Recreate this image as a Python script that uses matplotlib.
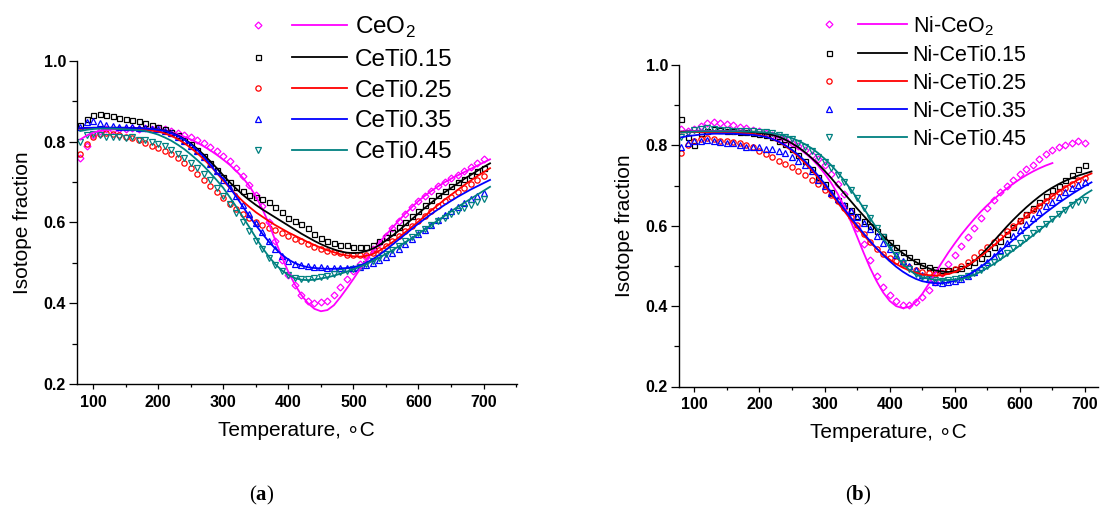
import matplotlib
matplotlib.use('Agg')
import matplotlib.pyplot as plt
from matplotlib.legend_handler import HandlerTuple
from matplotlib.ticker import MultipleLocator, FormatStrFormatter

plt.rcParams['font.family'] = ['Liberation Sans', 'DejaVu Sans']
plt.rcParams['mathtext.fontset'] = 'custom'
plt.rcParams['mathtext.rm'] = 'Liberation Sans'
plt.rcParams['mathtext.bf'] = 'Liberation Serif:bold'

# ---------------- data ----------------
T_data = list(range(80, 701, 10))      # measured points, degC
T_fit = list(range(80, 711, 10))       # fitted curves, degC
T_fit_b_ceo2 = list(range(80, 651, 10))

labels_a = ['CeO$_2$', 'CeTi0.15', 'CeTi0.25', 'CeTi0.35', 'CeTi0.45']
labels_b = ['Ni-CeO$_2$', 'Ni-CeTi0.15', 'Ni-CeTi0.25', 'Ni-CeTi0.35', 'Ni-CeTi0.45']

# panel (a) measured
a_ceo2 = [0.760, 0.790, 0.815, 0.825, 0.830, 0.828, 0.832, 0.830, 0.834, 0.831,
          0.833, 0.831, 0.833, 0.830, 0.826, 0.822, 0.816, 0.810, 0.805, 0.797,
          0.787, 0.776, 0.765, 0.752, 0.735, 0.715, 0.692, 0.667, 0.640, 0.600,
          0.555, 0.508, 0.470, 0.445, 0.420, 0.405, 0.400, 0.402, 0.405, 0.420,
          0.440, 0.460, 0.480, 0.497, 0.515, 0.535, 0.550, 0.567, 0.585, 0.603,
          0.620, 0.638, 0.652, 0.666, 0.678, 0.690, 0.700, 0.710, 0.718, 0.728,
          0.738, 0.747, 0.757]
a_ti15 = [0.840, 0.855, 0.865, 0.868, 0.866, 0.862, 0.858, 0.856, 0.853, 0.850,
          0.845, 0.840, 0.836, 0.830, 0.823, 0.815, 0.805, 0.793, 0.780, 0.765,
          0.748, 0.730, 0.712, 0.700, 0.688, 0.677, 0.668, 0.662, 0.657, 0.650,
          0.638, 0.625, 0.612, 0.603, 0.595, 0.585, 0.572, 0.562, 0.553, 0.548,
          0.545, 0.543, 0.540, 0.538, 0.540, 0.545, 0.553, 0.563, 0.575, 0.588,
          0.600, 0.615, 0.628, 0.642, 0.655, 0.667, 0.678, 0.690, 0.700, 0.708,
          0.718, 0.727, 0.735]
a_ti25 = [0.770, 0.795, 0.810, 0.818, 0.820, 0.818, 0.815, 0.812, 0.808, 0.803,
          0.797, 0.790, 0.783, 0.776, 0.768, 0.758, 0.747, 0.735, 0.720, 0.706,
          0.690, 0.675, 0.660, 0.645, 0.632, 0.620, 0.610, 0.602, 0.594, 0.587,
          0.580, 0.573, 0.566, 0.560, 0.553, 0.546, 0.540, 0.535, 0.530, 0.526,
          0.523, 0.520, 0.519, 0.519, 0.520, 0.525, 0.532, 0.542, 0.553, 0.565,
          0.578, 0.590, 0.603, 0.615, 0.628, 0.640, 0.652, 0.663, 0.674, 0.685,
          0.695, 0.705, 0.715]
a_ti35 = [0.835, 0.848, 0.850, 0.845, 0.840, 0.838, 0.836, 0.835, 0.835, 0.834,
          0.833, 0.832, 0.830, 0.826, 0.820, 0.812, 0.802, 0.790, 0.777, 0.762,
          0.745, 0.726, 0.705, 0.685, 0.665, 0.643, 0.620, 0.598, 0.575, 0.553,
          0.533, 0.517, 0.505, 0.498, 0.494, 0.492, 0.490, 0.489, 0.488, 0.487,
          0.487, 0.487, 0.488, 0.490, 0.494, 0.500, 0.507, 0.515, 0.525, 0.535,
          0.547, 0.558, 0.570, 0.582, 0.594, 0.605, 0.617, 0.628, 0.638, 0.648,
          0.657, 0.665, 0.673]
a_ti45 = [0.800, 0.815, 0.818, 0.815, 0.812, 0.810, 0.812, 0.808, 0.810, 0.805,
          0.803, 0.800, 0.795, 0.788, 0.780, 0.770, 0.760, 0.748, 0.735, 0.720,
          0.705, 0.685, 0.665, 0.645, 0.622, 0.600, 0.578, 0.555, 0.533, 0.512,
          0.495, 0.480, 0.470, 0.463, 0.460, 0.460, 0.462, 0.465, 0.468, 0.472,
          0.476, 0.480, 0.485, 0.490, 0.497, 0.505, 0.513, 0.522, 0.532, 0.542,
          0.553, 0.563, 0.573, 0.583, 0.593, 0.603, 0.612, 0.620, 0.628, 0.636,
          0.643, 0.650, 0.657]

# panel (a) fitted
fa_ceo2 = [0.805, 0.815, 0.822, 0.826, 0.829, 0.830, 0.831, 0.831, 0.831, 0.831,
           0.830, 0.830, 0.830, 0.827, 0.823, 0.818, 0.812, 0.805, 0.797, 0.788,
           0.778, 0.767, 0.755, 0.742, 0.727, 0.710, 0.690, 0.664, 0.633, 0.597,
           0.555, 0.514, 0.477, 0.446, 0.420, 0.400, 0.386, 0.380, 0.383, 0.395,
           0.415, 0.437, 0.460, 0.484, 0.507, 0.529, 0.550, 0.569, 0.587, 0.605,
           0.622, 0.638, 0.653, 0.666, 0.678, 0.689, 0.699, 0.708, 0.716, 0.724,
           0.732, 0.740, 0.748, 0.756]
fa_ti15 = [0.832, 0.833, 0.834, 0.834, 0.834, 0.834, 0.834, 0.834, 0.833, 0.833,
           0.832, 0.831, 0.830, 0.827, 0.822, 0.815, 0.806, 0.795, 0.782, 0.767,
           0.751, 0.734, 0.716, 0.699, 0.683, 0.668, 0.655, 0.643, 0.632, 0.622,
           0.612, 0.602, 0.592, 0.582, 0.572, 0.563, 0.554, 0.546, 0.539, 0.533,
           0.528, 0.525, 0.524, 0.525, 0.529, 0.535, 0.544, 0.555, 0.567, 0.580,
           0.594, 0.608, 0.622, 0.636, 0.649, 0.662, 0.674, 0.685, 0.696, 0.707,
           0.717, 0.727, 0.737, 0.746]
fa_ti25 = [0.832, 0.833, 0.833, 0.833, 0.833, 0.833, 0.832, 0.832, 0.831, 0.830,
           0.829, 0.827, 0.825, 0.820, 0.814, 0.806, 0.796, 0.784, 0.771, 0.756,
           0.740, 0.722, 0.703, 0.685, 0.668, 0.652, 0.638, 0.625, 0.614, 0.603,
           0.593, 0.584, 0.575, 0.567, 0.559, 0.551, 0.544, 0.537, 0.531, 0.526,
           0.521, 0.518, 0.516, 0.515, 0.517, 0.522, 0.530, 0.540, 0.551, 0.563,
           0.576, 0.589, 0.602, 0.616, 0.630, 0.643, 0.656, 0.668, 0.680, 0.692,
           0.703, 0.714, 0.724, 0.734]
fa_ti35 = [0.833, 0.834, 0.834, 0.834, 0.834, 0.834, 0.834, 0.834, 0.833, 0.833,
           0.832, 0.831, 0.829, 0.826, 0.821, 0.814, 0.805, 0.793, 0.779, 0.762,
           0.743, 0.722, 0.708, 0.686, 0.663, 0.639, 0.615, 0.593, 0.572, 0.552,
           0.535, 0.520, 0.508, 0.499, 0.493, 0.489, 0.487, 0.486, 0.485, 0.485,
           0.486, 0.487, 0.489, 0.493, 0.500, 0.509, 0.520, 0.532, 0.545, 0.558,
           0.571, 0.584, 0.597, 0.609, 0.621, 0.632, 0.643, 0.653, 0.663, 0.672,
           0.681, 0.689, 0.697, 0.705]
fa_ti45 = [0.826, 0.829, 0.831, 0.832, 0.832, 0.832, 0.831, 0.830, 0.829, 0.828,
           0.826, 0.822, 0.817, 0.810, 0.802, 0.792, 0.781, 0.768, 0.754, 0.739,
           0.722, 0.704, 0.685, 0.662, 0.638, 0.613, 0.588, 0.562, 0.537, 0.515,
           0.496, 0.481, 0.470, 0.462, 0.458, 0.457, 0.458, 0.461, 0.464, 0.468,
           0.473, 0.478, 0.484, 0.490, 0.497, 0.505, 0.513, 0.522, 0.531, 0.541,
           0.551, 0.561, 0.572, 0.583, 0.594, 0.605, 0.616, 0.627, 0.638, 0.648,
           0.658, 0.668, 0.678, 0.688]

# panel (b) measured
b_ceo2 = [0.840, 0.835, 0.840, 0.848, 0.855, 0.858, 0.855, 0.852, 0.850, 0.846,
          0.842, 0.838, 0.835, 0.830, 0.826, 0.820, 0.813, 0.805, 0.798, 0.788,
          0.777, 0.765, 0.750, 0.730, 0.705, 0.678, 0.635, 0.595, 0.555, 0.515,
          0.475, 0.447, 0.428, 0.412, 0.403, 0.404, 0.410, 0.423, 0.440, 0.460,
          0.483, 0.505, 0.527, 0.550, 0.572, 0.595, 0.620, 0.645, 0.665, 0.685,
          0.700, 0.715, 0.728, 0.740, 0.752, 0.765, 0.778, 0.788, 0.795, 0.800,
          0.805, 0.810, 0.805]
b_ti15 = [0.865, 0.820, 0.800, 0.830, 0.835, 0.840, 0.838, 0.836, 0.835, 0.834,
          0.833, 0.830, 0.828, 0.825, 0.820, 0.812, 0.803, 0.790, 0.776, 0.760,
          0.740, 0.722, 0.703, 0.685, 0.665, 0.652, 0.640, 0.625, 0.612, 0.600,
          0.588, 0.575, 0.560, 0.546, 0.535, 0.523, 0.512, 0.503, 0.497, 0.492,
          0.490, 0.490, 0.492, 0.495, 0.502, 0.510, 0.520, 0.533, 0.547, 0.563,
          0.580, 0.597, 0.615, 0.630, 0.645, 0.660, 0.675, 0.688, 0.700, 0.713,
          0.727, 0.740, 0.752]
b_ti25 = [0.780, 0.800, 0.810, 0.815, 0.818, 0.815, 0.812, 0.810, 0.808, 0.805,
          0.800, 0.795, 0.786, 0.778, 0.770, 0.762, 0.754, 0.745, 0.737, 0.727,
          0.715, 0.703, 0.690, 0.677, 0.662, 0.643, 0.623, 0.602, 0.580, 0.560,
          0.543, 0.530, 0.520, 0.512, 0.505, 0.497, 0.490, 0.485, 0.482, 0.481,
          0.483, 0.487, 0.492, 0.500, 0.510, 0.522, 0.535, 0.548, 0.560, 0.573,
          0.587, 0.600, 0.613, 0.626, 0.638, 0.650, 0.662, 0.673, 0.684, 0.694,
          0.704, 0.713, 0.720]
b_ti35 = [0.795, 0.805, 0.810, 0.812, 0.813, 0.810, 0.808, 0.805, 0.806, 0.800,
          0.797, 0.795, 0.795, 0.792, 0.790, 0.785, 0.780, 0.772, 0.762, 0.750,
          0.735, 0.715, 0.700, 0.682, 0.666, 0.651, 0.637, 0.622, 0.607, 0.592,
          0.575, 0.558, 0.542, 0.527, 0.513, 0.500, 0.489, 0.478, 0.468, 0.461,
          0.458, 0.460, 0.463, 0.468, 0.474, 0.484, 0.497, 0.510, 0.525, 0.540,
          0.557, 0.574, 0.590, 0.605, 0.620, 0.634, 0.648, 0.660, 0.672, 0.683,
          0.693, 0.702, 0.710]
b_ti45 = [0.820, 0.830, 0.838, 0.840, 0.842, 0.840, 0.838, 0.838, 0.837, 0.836,
          0.836, 0.835, 0.834, 0.833, 0.830, 0.826, 0.822, 0.815, 0.806, 0.796,
          0.785, 0.772, 0.758, 0.743, 0.727, 0.710, 0.690, 0.668, 0.645, 0.620,
          0.595, 0.572, 0.548, 0.527, 0.508, 0.493, 0.481, 0.472, 0.467, 0.464,
          0.463, 0.464, 0.467, 0.470, 0.475, 0.482, 0.490, 0.500, 0.510, 0.521,
          0.533, 0.545, 0.557, 0.569, 0.581, 0.593, 0.605, 0.617, 0.628, 0.640,
          0.652, 0.660, 0.665]

# panel (b) fitted
fb_ceo2 = [0.835, 0.835, 0.836, 0.836, 0.836, 0.836, 0.836, 0.836, 0.835, 0.835,
           0.834, 0.833, 0.832, 0.830, 0.826, 0.820, 0.813, 0.804, 0.793, 0.781,
           0.767, 0.750, 0.730, 0.707, 0.680, 0.648, 0.612, 0.573, 0.533, 0.495,
           0.462, 0.434, 0.413, 0.400, 0.395, 0.398, 0.410, 0.430, 0.455, 0.482,
           0.508, 0.533, 0.556, 0.578, 0.598, 0.617, 0.635, 0.651, 0.666, 0.680,
           0.693, 0.705, 0.716, 0.726, 0.735, 0.743, 0.750, 0.756]
fb_ti15 = [0.834, 0.834, 0.834, 0.834, 0.834, 0.834, 0.834, 0.834, 0.834, 0.833,
           0.833, 0.832, 0.831, 0.829, 0.826, 0.821, 0.814, 0.805, 0.795, 0.783,
           0.769, 0.754, 0.737, 0.719, 0.700, 0.681, 0.662, 0.643, 0.625, 0.607,
           0.590, 0.574, 0.559, 0.545, 0.532, 0.520, 0.510, 0.501, 0.494, 0.489,
           0.486, 0.485, 0.487, 0.492, 0.500, 0.512, 0.527, 0.544, 0.562, 0.580,
           0.598, 0.615, 0.631, 0.646, 0.660, 0.673, 0.685, 0.695, 0.704, 0.712,
           0.719, 0.725, 0.730, 0.735]
fb_ti25 = [0.832, 0.833, 0.833, 0.833, 0.833, 0.833, 0.833, 0.832, 0.832, 0.831,
           0.830, 0.828, 0.826, 0.822, 0.816, 0.808, 0.798, 0.786, 0.772, 0.756,
           0.739, 0.720, 0.700, 0.679, 0.658, 0.637, 0.616, 0.596, 0.577, 0.559,
           0.543, 0.529, 0.516, 0.505, 0.496, 0.489, 0.483, 0.479, 0.477, 0.476,
           0.477, 0.480, 0.485, 0.492, 0.501, 0.512, 0.524, 0.537, 0.551, 0.565,
           0.580, 0.595, 0.609, 0.623, 0.637, 0.650, 0.662, 0.674, 0.685, 0.696,
           0.706, 0.715, 0.723, 0.730]
fb_ti35 = [0.820, 0.823, 0.825, 0.827, 0.828, 0.829, 0.829, 0.829, 0.829, 0.828,
           0.827, 0.826, 0.824, 0.821, 0.816, 0.809, 0.800, 0.789, 0.776, 0.761,
           0.744, 0.725, 0.705, 0.684, 0.663, 0.642, 0.621, 0.601, 0.581, 0.562,
           0.544, 0.527, 0.512, 0.498, 0.486, 0.476, 0.468, 0.462, 0.459, 0.457,
           0.457, 0.459, 0.463, 0.469, 0.477, 0.487, 0.498, 0.510, 0.523, 0.537,
           0.551, 0.565, 0.579, 0.593, 0.607, 0.620, 0.633, 0.645, 0.657, 0.668,
           0.679, 0.689, 0.699, 0.708]
fb_ti45 = [0.832, 0.833, 0.834, 0.835, 0.835, 0.835, 0.835, 0.835, 0.835, 0.835,
           0.834, 0.834, 0.833, 0.832, 0.830, 0.827, 0.823, 0.818, 0.811, 0.803,
           0.793, 0.781, 0.767, 0.751, 0.733, 0.713, 0.691, 0.668, 0.644, 0.619,
           0.594, 0.569, 0.546, 0.524, 0.505, 0.490, 0.479, 0.472, 0.468, 0.466,
           0.465, 0.465, 0.466, 0.468, 0.472, 0.478, 0.486, 0.495, 0.505, 0.516,
           0.527, 0.539, 0.551, 0.563, 0.576, 0.589, 0.602, 0.615, 0.628, 0.641,
           0.654, 0.666, 0.678, 0.688]

colors = ['#FF00FF', '#000000', '#FF0000', '#0000FF', '#008080']
markers = ['D', 's', 'o', '^', 'v']
msizes = [3.5, 3.6, 3.8, 4.1, 4.1]

W, H = 1100, 509
fig = plt.figure(figsize=(W / 100, H / 100), dpi=100)
axA = fig.add_axes([77 / W, (H - 384) / H, (516.7 - 77) / W, (384 - 60.7) / H])
axB = fig.add_axes([679 / W, (H - 386.5) / H, (1098 - 679) / W, (386.5 - 65) / H])


def panel(ax, meas, fits, fit_T, labels, xlim, leg):
    handles = []
    for i in range(5):
        m, = ax.plot(T_data, meas[i], ls='none', marker=markers[i], ms=msizes[i],
                     mfc='none', mec=colors[i], mew=0.9, zorder=2)
        l, = ax.plot(fit_T[i], fits[i], color=colors[i], lw=1.3, zorder=3)
        handles.append((m, l))
    ax.set_xlim(*xlim)
    ax.set_ylim(0.2, 1.0)
    ax.xaxis.set_major_locator(MultipleLocator(100))
    ax.xaxis.set_minor_locator(MultipleLocator(50))
    ax.yaxis.set_major_locator(MultipleLocator(0.2))
    ax.yaxis.set_minor_locator(MultipleLocator(0.1))
    ax.yaxis.set_major_formatter(FormatStrFormatter('%.1f'))
    for s in ['top', 'right']:
        ax.spines[s].set_visible(False)
    for s in ['left', 'bottom']:
        ax.spines[s].set_linewidth(1.0)
    ax.tick_params(axis='x', which='major', length=3.8, width=0.9, pad=4, labelsize=11.5)
    ax.tick_params(axis='x', which='minor', length=2.3, width=0.9)
    ax.tick_params(axis='y', which='major', length=5.5, width=0.9, pad=2.5, labelsize=11.5)
    ax.tick_params(axis='y', which='minor', length=3.4, width=0.9)
    for lab in ax.get_xticklabels() + ax.get_yticklabels():
        lab.set_fontweight('bold')
    ax.set_xlabel('Temperature, \u2218C', fontsize=15, labelpad=8)
    ax.set_ylabel('Isotope fraction', fontsize=15, labelpad=8)
    fs_px = leg['fs'] * 100 / 72
    ax.legend(handles, labels, loc='upper left',
              bbox_to_anchor=(leg['x0'] / W, 1 - leg['y0'] / H),
              bbox_transform=fig.transFigure, frameon=False,
              borderpad=0, borderaxespad=0, fontsize=leg['fs'],
              handlelength=leg['hl'] / fs_px, handletextpad=leg['tp'] / fs_px,
              labelspacing=leg['ls'],
              handler_map={tuple: HandlerTuple(ndivide=None, pad=leg['pad'] / fs_px)})


panel(axA, [a_ceo2, a_ti15, a_ti25, a_ti35, a_ti45],
      [fa_ceo2, fa_ti15, fa_ti25, fa_ti35, fa_ti45], [T_fit] * 5,
      labels_a, (75, 751),
      dict(fs=17.5, x0=229.9, y0=15, hl=117.4, tp=7.7, ls=0.36, pad=6.2))
panel(axB, [b_ceo2, b_ti15, b_ti25, b_ti35, b_ti45],
      [fb_ceo2, fb_ti15, fb_ti25, fb_ti35, fb_ti45],
      [T_fit_b_ceo2] + [T_fit] * 4,
      labels_b, (76.5, 720),
      dict(fs=15.5, x0=804.5, y0=14, hl=102.8, tp=5.4, ls=0.33, pad=4.8))

fig.text(261.7 / W, 1 - 495 / H, r'($\mathbf{a}$)', ha='center', va='center',
         fontsize=15, family='Liberation Serif')
fig.text(858 / W, 1 - 495 / H, r'($\mathbf{b}$)', ha='center', va='center',
         fontsize=15, family='Liberation Serif')

fig.savefig('out.png', dpi=100)
